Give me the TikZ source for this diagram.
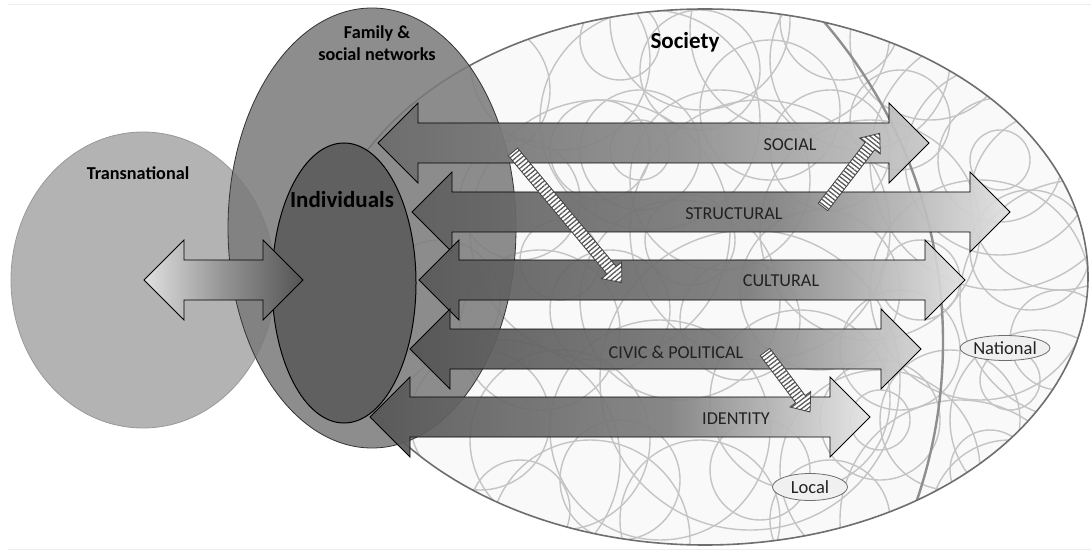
\documentclass[tikz,border=0pt]{standalone}
\usepackage{fontspec}
\setmainfont{Carlito}
\usetikzlibrary{patterns.meta,shapes.geometric}
\definecolor{socfill}{HTML}{F9F9F9}
\definecolor{socline}{HTML}{6E6E6E}
\definecolor{bgcirc}{HTML}{C4C4C4}
\definecolor{localline}{HTML}{8E8E8E}
\definecolor{transfill}{HTML}{B3B3B3}
\definecolor{transline}{HTML}{999999}
\definecolor{famfill}{HTML}{7A7A7A}
\definecolor{indfill}{HTML}{606060}
\definecolor{txt}{HTML}{222222}
\definecolor{lblfill}{HTML}{F0F0F0}
\pgfdeclarehorizontalshading{shSocial}{100bp}{rgb(0bp)=(0.42,0.42,0.42); rgb(25bp)=(0.42,0.42,0.42); rgb(52bp)=(0.55,0.55,0.55); rgb(75bp)=(0.78,0.78,0.78); rgb(100bp)=(0.78,0.78,0.78)}
\pgfdeclarehorizontalshading{shStruct}{100bp}{rgb(0bp)=(0.37,0.37,0.37); rgb(25bp)=(0.37,0.37,0.37); rgb(55bp)=(0.50,0.50,0.50); rgb(75bp)=(0.88,0.88,0.88); rgb(100bp)=(0.88,0.88,0.88)}
\pgfdeclarehorizontalshading{shCult}{100bp}{rgb(0bp)=(0.35,0.35,0.35); rgb(25bp)=(0.35,0.35,0.35); rgb(55bp)=(0.48,0.48,0.48); rgb(75bp)=(0.88,0.88,0.88); rgb(100bp)=(0.88,0.88,0.88)}
\pgfdeclarehorizontalshading{shCivic}{100bp}{rgb(0bp)=(0.33,0.33,0.33); rgb(25bp)=(0.33,0.33,0.33); rgb(55bp)=(0.47,0.47,0.47); rgb(75bp)=(0.82,0.82,0.82); rgb(100bp)=(0.82,0.82,0.82)}
\pgfdeclarehorizontalshading{shIdent}{100bp}{rgb(0bp)=(0.34,0.34,0.34); rgb(25bp)=(0.34,0.34,0.34); rgb(55bp)=(0.50,0.50,0.50); rgb(75bp)=(0.90,0.90,0.90); rgb(100bp)=(0.90,0.90,0.90)}
\pgfdeclarehorizontalshading{shTrans}{100bp}{rgb(0bp)=(0.88,0.88,0.88); rgb(25bp)=(0.88,0.88,0.88); rgb(50bp)=(0.58,0.58,0.58); rgb(75bp)=(0.33,0.33,0.33); rgb(100bp)=(0.33,0.33,0.33)}
\newcommand{\dblarrowpath}[3]{(#1,#3) -- ++(40,-40) -- ++(0,20) -- (#2-40,#3-20) -- ++(0,-20) -- (#2,#3) -- ++(-40,40) -- ++(0,-20) -- (#1+40,#3+20) -- ++(0,20) -- cycle}
\newcommand{\hatcharrow}[5]{%
  \begin{scope}[shift={(#1,#2)}, rotate=#3]
    \fill[white] (0,-6) -- (#4-16,-6) -- (#4-16,-13) -- (#4,0) -- (#4-16,13) -- (#4-16,6) -- (0,6) -- cycle;
    \path[hatchstyle, pattern={Lines[angle=#5,distance=3.6pt,line width=1.3pt]}] (0,-6) -- (#4-16,-6) -- (#4-16,-13) -- (#4,0) -- (#4-16,13) -- (#4-16,6) -- (0,6) -- cycle;
  \end{scope}}
\begin{document}
\begin{tikzpicture}[x=1pt,y=-1pt,
  bgcircle/.style={draw=bgcirc, line width=1.4pt},
  bigarrow/.style={draw=black, line width=0.9pt, line join=miter},
  hatchstyle/.style={draw=black!75, line width=0.8pt, pattern color=black!65},
  lab/.style={text=txt, inner sep=1pt, font=\fontsize{18.2}{21}\selectfont},
  blab/.style={text=black, inner sep=1pt, align=center, font=\bfseries\fontsize{18.2}{21.5}\selectfont},
  biglab/.style={text=black, inner sep=1pt, font=\bfseries\fontsize{23}{26}\selectfont},
  levellab/.style={ellipse, draw=socline, line width=0.8pt, fill=lblfill, inner sep=0pt, text=txt, font=\fontsize{18.5}{20}\selectfont}
]
\useasboundingbox[fill=white] (0,0) rectangle (1091,553);
\draw[black!7, line width=0.8pt] (8,4) -- (1091,4);
\draw[black!7, line width=0.8pt] (8,549) -- (1091,549);
% Society
\fill[socfill] (705,277) ellipse [x radius=383, y radius=268];
\begin{scope}
  \clip (705,277) ellipse [x radius=383, y radius=268];
  \foreach \cx/\cy/\r in {480/90/70, 520/200/60, 560/60/90, 600/150/50, 620/40/40, 650/120/110, 700/70/60, 720/180/90, 770/110/70, 790/30/100, 830/150/60, 860/60/90, 900/120/50, 1000/160/30, 1000/160/62, 1000/160/95, 1000/160/130, 1030/250/60, 980/290/110, 1060/340/50, 1040/420/90, 990/470/40, 950/420/70, 900/350/60, 880/470/100, 830/520/60, 800/400/90, 760/470/50, 700/520/80, 660/430/110, 620/480/60, 560/440/90, 520/510/50, 480/420/70, 540/330/80, 610/310/60, 680/300/100, 740/320/60, 820/290/80, 870/230/110, 760/230/130, 600/230/130, 440/300/60, 1010/380/30, 1010/520/40, 1010/520/80, 930/40/80, 500/460/120, 880/420/30, 880/420/60, 640/150/30, 640/150/60, 700/20/90, 840/20/60, 1060/200/90, 1080/300/120, 960/520/120, 590/540/100, 750/380/150, 920/280/40, 560/260/40, 690/240/45}
    \draw[bgcircle] (\cx,\cy) circle [radius=\r];
  \draw[localline, line width=2.4pt] (453,342) circle [radius=490];
\end{scope}
\draw[socline, line width=1.6pt] (705,277) ellipse [x radius=383, y radius=268];
% Transnational, family, individuals
\path[fill=transfill, draw=transline, line width=0.8pt] (143,280) ellipse [x radius=132, y radius=148];
\path[fill=famfill, fill opacity=0.85, draw=black!80, line width=0.8pt] (372,228) ellipse [x radius=144, y radius=220];
\path[fill=indfill, draw=black, line width=1pt] (344,283) ellipse [x radius=72, y radius=140];
% Transnational double arrow
\path[bigarrow, shading=shTrans] \dblarrowpath{144}{303}{280};
% Dimension arrows
\path[bigarrow, shading=shSocial, fill opacity=0.93] \dblarrowpath{378}{929}{143};
\path[bigarrow, shading=shStruct, fill opacity=0.93] \dblarrowpath{412}{1010}{212};
\path[bigarrow, shading=shCult, fill opacity=0.93] \dblarrowpath{419}{965}{280};
\path[bigarrow, shading=shCivic, fill opacity=0.93] \dblarrowpath{410}{921}{349};
\path[bigarrow, shading=shIdent, fill opacity=0.93] \dblarrowpath{370}{870}{417};
% Hatched arrows
\hatcharrow{513}{152}{-50.2}{170}{40}
\hatcharrow{823}{207}{52.4}{93}{-38}
\hatcharrow{765}{352}{-53.1}{75}{37}
% Labels
\node[blab] (trans) at (138,173) {Transnational};
\node[blab] (fam) at (377,43) {Family \&\\social networks};
\node[biglab] (ind) at (342,200) {Individuals};
\node[biglab] (soc) at (685,42) {Society};
\node[lab] (social) at (790,145) {SOCIAL};
\node[lab] (struct) at (734,214) {STRUCTURAL};
\node[lab] (cult) at (781,281) {CULTURAL};
\node[lab] (civic) at (676,352) {CIVIC \& POLITICAL};
\node[lab] (ident) at (736,419) {IDENTITY};
\node[levellab, minimum width=88pt, minimum height=25pt] (nat) at (1005,348) {National};
\node[levellab, minimum width=75pt, minimum height=27pt] (loc) at (810,487) {Local};
\end{tikzpicture}
\end{document}
